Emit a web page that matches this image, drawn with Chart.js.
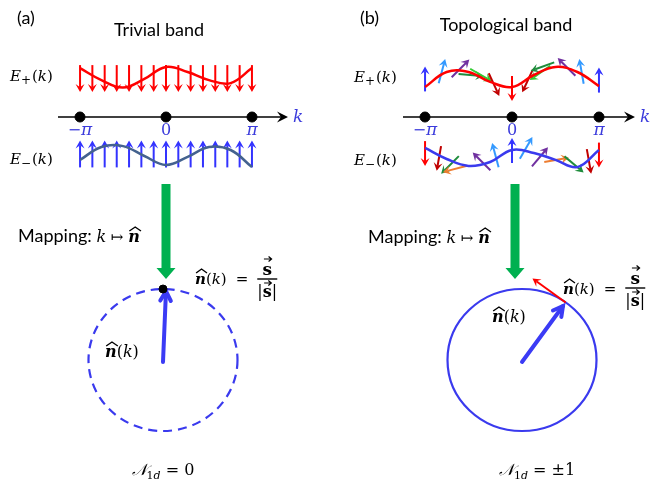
<!DOCTYPE html>
<html>
<head>
<meta charset="utf-8">
<script src="https://cdn.jsdelivr.net/npm/chart.js@4.4.0/dist/chart.umd.min.js"></script>
<style>
  html, body { margin: 0; padding: 0; background: #fff; }
</style>
</head>
<body>
<canvas id="fig" width="651" height="479"></canvas>
<script>
// band samples, k from -pi to pi
const kGrid = [-3.14, -2.36, -1.57, -0.79, 0, 0.79, 1.57, 2.36, 3.14];
const trivialUpper = [1.63, 1.23, 0.98, 1.27, 1.67, 1.50, 1.23, 1.13, 1.63];
const trivialLower = [-1.43, -1.00, -0.97, -1.30, -1.60, -1.33, -1.00, -1.10, -1.67];
const topoUpper = [1.00, 1.50, 1.50, 1.17, 1.00, 1.40, 1.67, 1.50, 1.03];
const topoLower = [-1.03, -1.40, -1.63, -1.50, -1.10, -1.20, -1.43, -1.67, -1.10];

const tickK = [-3.1416, 0, 3.1416];
const tickLabels = [['\u2212', '\u03c0'], ['0'], ['\u03c0']];

// trivial band: spin is the same at every k
const trivialSpinK = [-3.14, -2.69, -2.24, -1.80, -1.35, -0.90, -0.45, 0, 0.45, 0.90, 1.35, 1.80, 2.24, 2.69, 3.14];
const trivialUpperSpinE = 1.28;
const trivialLowerSpinE = -1.23;

// topological band: spin winds once (angle from "up", clockwise)
const topoUpperSpinK = [-3.14, -2.53, -1.86, -1.48, -1.12, -0.65, 0, 0.56, 1.01, 1.10, 1.97, 2.51, 3.14];
const topoUpperSpinE = [1.27, 1.53, 1.62, 1.40, 1.40, 1.08, 0.95, 1.20, 1.47, 1.68, 1.67, 1.52, 1.23];
const topoUpperSpinAngle = [0, 15, 45, 95, 120, 155, 180, 205, 235, 250, 315, 350, 360];
const topoUpperSpinColor = ['blue', 'sky', 'purple', 'forest', 'lime', 'maroon', 'red', 'maroon', 'lime', 'forest', 'purple', 'sky', 'blue'];

const topoLowerSpinK = [-3.14, -2.64, -2.24, -2.06, -1.10, -0.60, 0, 0.51, 1.01, 1.61, 2.24, 2.78, 3.14];
const topoLowerSpinE = [-1.22, -1.38, -1.60, -1.73, -1.48, -1.27, -1.12, -1.03, -1.33, -1.43, -1.58, -1.48, -1.27];
const topoLowerSpinAngle = [180, 190, 225, 255, 315, 345, 360, 30, 40, 80, 130, 170, 180];
const topoLowerSpinColor = ['red', 'maroon', 'forest', 'orange', 'purple', 'sky', 'blue', 'sky', 'purple', 'orange', 'forest', 'maroon', 'red'];

// n-hat on the unit circle
const trivialVector = [0.04, 0.97];
const topoVector = [0.55, 0.76];

const palette = {
  red: '#ff0000', maroon: '#c00000', blue: '#3333ff', sky: '#3399ff',
  purple: '#7030a0', forest: '#1e8c3c', lime: '#33cc33', orange: '#ed7d31'
};

const SANS = 'Lato, "Open Sans", sans-serif';
const SERIF = '"DejaVu Serif", serif';
const W = 651, H = 479;

// min/max of a hidden scale so that value v0 sits at pixel p0 and v1 at p1
function span(v0, p0, v1, p1, size) {
  const u = (v1 - v0) / (p1 - p0);
  const a = v0 - p0 * u, b = v0 + (size - p0) * u;
  return { min: Math.min(a, b), max: Math.max(a, b) };
}

function hidden(r) {
  return Object.assign({ type: 'linear', display: false }, r);
}

const pts = (ks, es) => ks.map((k, i) => ({ x: k, y: es[i] }));

function spinArrow(ctx, cx, cy, deg, len, color, lw) {
  const a = deg * Math.PI / 180, dx = Math.sin(a), dy = -Math.cos(a);
  const tx = cx - dx * len / 2, ty = cy - dy * len / 2;
  const hx = cx + dx * len / 2, hy = cy + dy * len / 2;
  const hl = 8, hw = 4.5, px = -dy, py = dx;
  ctx.strokeStyle = color; ctx.fillStyle = color; ctx.lineWidth = lw || 2;
  ctx.beginPath(); ctx.moveTo(tx, ty); ctx.lineTo(hx - dx * hl * 0.6, hy - dy * hl * 0.6); ctx.stroke();
  ctx.beginPath(); ctx.moveTo(hx, hy);
  ctx.lineTo(hx - dx * hl + px * hw, hy - dy * hl + py * hw);
  ctx.lineTo(hx - dx * hl * 0.6, hy - dy * hl * 0.6);
  ctx.lineTo(hx - dx * hl - px * hw, hy - dy * hl - py * hw);
  ctx.closePath(); ctx.fill();
}

function runs(ctx, list, x, y, align) {
  let w = 0;
  list.forEach(r => { ctx.font = r.font; r.w = ctx.measureText(r.t).width; w += (r.pre || 0) + r.w + (r.gap || 0); });
  let cx = align === 'center' ? x - w / 2 : x;
  list.forEach(r => {
    cx += r.pre || 0;
    const yy = y + (r.dy || 0);
    ctx.font = r.font; ctx.fillStyle = r.color || '#000';
    ctx.textAlign = 'left'; ctx.textBaseline = 'alphabetic';
    ctx.fillText(r.t, cx, yy);
    if (r.deco === 'hat') {
      ctx.strokeStyle = '#000'; ctx.lineWidth = 1.4;
      ctx.beginPath();
      ctx.moveTo(cx + r.w * 0.1, yy - 11); ctx.lineTo(cx + r.w * 0.6, yy - 15); ctx.lineTo(cx + r.w * 1.1, yy - 11);
      ctx.stroke();
    } else if (r.deco === 'vec') {
      ctx.strokeStyle = '#000'; ctx.lineWidth = 1.2;
      const l = cx + r.w * 0.15, rr = cx + r.w * 0.95, t = yy - (r.vy || 16);
      ctx.beginPath(); ctx.moveTo(l, t); ctx.lineTo(rr, t);
      ctx.moveTo(rr - 3, t - 2.5); ctx.lineTo(rr, t); ctx.lineTo(rr - 3, t + 2.5); ctx.stroke();
    }
    cx += r.w + (r.gap || 0);
  });
  return w;
}

const it = s => `italic ${s}px ${SERIF}`;
const up = s => `${s}px ${SERIF}`;
const bi = s => `bold italic ${s}px ${SERIF}`;
const bd = s => `bold ${s}px ${SERIF}`;

const energyLabel = sign => [
  { t: 'E', font: it(15) }, { t: sign, font: up(12), dy: 3, gap: 1 },
  { t: '(', font: up(15) }, { t: 'k', font: it(15) }, { t: ')', font: up(15) }
];
const nHat = s => [{ t: 'n', font: bi(s), deco: 'hat' }, { t: '(', font: up(s) }, { t: 'k', font: it(s) }, { t: ')', font: up(s) }];
const mapping = [
  { t: 'Mapping: ', font: `18px ${SANS}` }, { t: 'k', font: it(16) },
  { t: ' \u21a6 ', font: up(15) }, { t: 'n', font: bi(16), deco: 'hat' }
];
const winding = v => [
  { t: '\ud835\udca9', font: it(16) }, { t: '1', font: up(11), dy: 4 }, { t: 'd', font: it(11), dy: 4 },
  { t: ' = ' + v, font: up(16) }
];

function axisLine(ctx, x0, x1, y) {
  ctx.strokeStyle = '#000'; ctx.fillStyle = '#000'; ctx.lineWidth = 1.6;
  ctx.beginPath(); ctx.moveTo(x0, y); ctx.lineTo(x1 - 4, y); ctx.stroke();
  ctx.beginPath(); ctx.moveTo(x1, y); ctx.lineTo(x1 - 11, y - 5.5); ctx.lineTo(x1 - 7, y); ctx.lineTo(x1 - 11, y + 5.5);
  ctx.closePath(); ctx.fill();
}

function blockArrow(ctx, x, y0, y1) {
  ctx.fillStyle = '#00b050';
  ctx.beginPath();
  ctx.moveTo(x - 4.5, y0); ctx.lineTo(x + 4.5, y0); ctx.lineTo(x + 4.5, y1 - 11);
  ctx.lineTo(x + 9.5, y1 - 11); ctx.lineTo(x, y1); ctx.lineTo(x - 9.5, y1 - 11);
  ctx.lineTo(x - 4.5, y1 - 11); ctx.closePath(); ctx.fill();
}

function fraction(ctx, x, y) {
  ctx.strokeStyle = '#000'; ctx.lineWidth = 1.4;
  ctx.beginPath(); ctx.moveTo(x - 10, y); ctx.lineTo(x + 10, y); ctx.stroke();
  runs(ctx, [{ t: 's', font: bd(17), deco: 'vec' }], x, y - 4, 'center');
  runs(ctx, [{ t: '|', font: up(16) }, { t: 's', font: bd(16), deco: 'vec', vy: 14 }, { t: '|', font: up(16) }], x, y + 18, 'center');
}

function equation(ctx, x, y, barY) {
  const w = runs(ctx, nHat(15).concat([{ t: '=', font: up(15), pre: 9, gap: 9 }]), x, y);
  fraction(ctx, x + w + 10, barY);
}

const backdrop = {
  id: 'backdrop',
  beforeDatasetsDraw(chart) {
    const { ctx, scales } = chart;
    const yE = scales.yE, yc = scales.yc;
    ctx.save();
    ['xa', 'xb'].forEach(id => {
      const s = scales[id];
      axisLine(ctx, s.getPixelForValue(-Math.PI) - 22, s.getPixelForValue(Math.PI) + 36, yE.getPixelForValue(0));
    });
    trivialSpinK.forEach(k => {
      const x = scales.xa.getPixelForValue(k);
      spinArrow(ctx, x, yE.getPixelForValue(trivialUpperSpinE), 180, 27, palette.red);
      spinArrow(ctx, x, yE.getPixelForValue(trivialLowerSpinE), 0, 27, palette.blue);
    });
    topoUpperSpinK.forEach((k, i) => spinArrow(ctx, scales.xb.getPixelForValue(k), yE.getPixelForValue(topoUpperSpinE[i]),
      topoUpperSpinAngle[i], 25, palette[topoUpperSpinColor[i]]));
    topoLowerSpinK.forEach((k, i) => spinArrow(ctx, scales.xb.getPixelForValue(k), yE.getPixelForValue(topoLowerSpinE[i]),
      topoLowerSpinAngle[i], 25, palette[topoLowerSpinColor[i]]));

    // circles with the n-hat vector
    [['xca', true, trivialVector], ['xcb', false, topoVector]].forEach(([id, dashed, v]) => {
      const s = scales[id];
      const cx = s.getPixelForValue(0), cy = yc.getPixelForValue(0);
      const rx = s.getPixelForValue(1) - cx, ry = cy - yc.getPixelForValue(1);
      ctx.strokeStyle = '#3a3aee'; ctx.lineWidth = 2.2;
      ctx.setLineDash(dashed ? [9, 6] : []);
      ctx.beginPath(); ctx.ellipse(cx, cy, rx, ry, 0, 0, Math.PI * 2); ctx.stroke();
      ctx.setLineDash([]);
      const tx = s.getPixelForValue(v[0]), ty = yc.getPixelForValue(v[1]);
      const ang = Math.atan2(ty - cy, tx - cx);
      ctx.strokeStyle = '#3b3bf5'; ctx.lineWidth = 4; ctx.lineCap = 'round';
      ctx.beginPath(); ctx.moveTo(cx, cy + 2); ctx.lineTo(tx, ty); ctx.stroke();
      ctx.beginPath();
      ctx.moveTo(tx + 11 * Math.cos(ang + Math.PI - 0.5), ty + 11 * Math.sin(ang + Math.PI - 0.5));
      ctx.lineTo(tx, ty);
      ctx.lineTo(tx + 11 * Math.cos(ang + Math.PI + 0.5), ty + 11 * Math.sin(ang + Math.PI + 0.5));
      ctx.stroke();
      ctx.lineCap = 'butt';
      if (!dashed) {
        // tangent (red) at the point on the circle
        const n = Math.hypot(v[0], v[1]);
        const px = s.getPixelForValue(v[0] / n), py = yc.getPixelForValue(v[1] / n);
        const nx = (px - cx) / rx, ny = (py - cy) / ry, nn = Math.hypot(nx, ny);
        const tdx = ny / nn, tdy = -nx / nn;
        const L = 41;
        const ex = px + tdx * L, ey = py + tdy * L;
        spinArrow(ctx, (px + ex) / 2, (py + ey) / 2, Math.atan2(tdx, -tdy) * 180 / Math.PI, L, palette.red, 2);
      }
    });
    ctx.restore();
  },
  afterDatasetsDraw(chart) {
    const { ctx, scales } = chart;
    ctx.save();

    // titles
    ctx.fillStyle = '#000'; ctx.textBaseline = 'alphabetic';
    ctx.font = `18px ${SANS}`; ctx.textAlign = 'left';
    ctx.fillText('(a)', 17, 24); ctx.fillText('(b)', 360, 24);
    ctx.textAlign = 'center';
    ctx.fillText('Trivial band', 159, 36); ctx.fillText('Topological band', 506, 31);

    // band labels and ticks
    runs(ctx, energyLabel('+'), 10, 81);
    runs(ctx, energyLabel('\u2212'), 10, 164);
    runs(ctx, energyLabel('+'), 354, 82);
    runs(ctx, energyLabel('\u2212'), 354, 165);
    ['xa', 'xb'].forEach(id => {
      const s = scales[id];
      tickK.forEach((k, i) => runs(ctx, tickLabels[i].map(t => ({
        t: t, font: t === '\u03c0' ? it(17) : up(16), color: '#3b3bdc'
      })), s.getPixelForValue(k), 135, 'center'));
      runs(ctx, [{ t: 'k', font: it(17), color: '#3b3bdc' }], s.getPixelForValue(Math.PI) + 41, 122);
    });

    // mapping arrows
    blockArrow(ctx, scales.xa.getPixelForValue(0), 184, 279);
    blockArrow(ctx, scales.xb.getPixelForValue(0) + 3, 184, 279);
    runs(ctx, mapping, 18, 242);
    runs(ctx, mapping, 368, 243);

    // labels on circles
    equation(ctx, 195, 284, 279);
    equation(ctx, 563, 294, 288);
    runs(ctx, nHat(16), 105, 357);
    runs(ctx, nHat(16), 492, 322);
    runs(ctx, winding('0'), 163, 475, 'center');
    runs(ctx, winding('\u00b11'), 537, 475, 'center');
    ctx.restore();
  }
};

const lineSet = (xId, yId, data, color) => ({
  type: 'line', xAxisID: xId, yAxisID: yId, data: data,
  borderColor: color, borderWidth: 2.5, pointRadius: 0, tension: 0.4, fill: false
});
const dotSet = (xId, yId, data, r) => ({
  type: 'scatter', xAxisID: xId, yAxisID: yId, data: data,
  backgroundColor: '#000', borderColor: '#000', pointRadius: r, pointHoverRadius: r
});

new Chart(document.getElementById('fig'), {
  type: 'line',
  data: {
    datasets: [
      lineSet('xa', 'yE', pts(kGrid, trivialUpper), '#ff0000'),
      lineSet('xa', 'yE', pts(kGrid, trivialLower), '#44628f'),
      lineSet('xb', 'yE', pts(kGrid, topoUpper), '#ff0000'),
      lineSet('xb', 'yE', pts(kGrid, topoLower), '#3a3aee'),
      dotSet('xa', 'yE', tickK.map(k => ({ x: k, y: 0 })), 5),
      dotSet('xb', 'yE', tickK.map(k => ({ x: k, y: 0 })), 5),
      dotSet('xca', 'yc', [{ x: 0, y: 1 }], 4)
    ]
  },
  options: {
    responsive: false,
    animation: false,
    events: [],
    layout: { padding: 0, autoPadding: false },
    plugins: { legend: { display: false }, tooltip: { enabled: false }, title: { display: false } },
    scales: {
      xa: hidden(span(-Math.PI, 80, Math.PI, 252, W)),
      xb: hidden(span(-Math.PI, 425, Math.PI, 599, W)),
      yE: hidden(span(0, 117, 1, 87, H)),
      xca: hidden(span(0, 163, 1, 237.5, W)),
      xcb: hidden(span(0, 522, 1, 596.5, W)),
      yc: hidden(span(0, 360, 1, 289, H))
    }
  },
  plugins: [backdrop]
});
</script>
</body>
</html>
